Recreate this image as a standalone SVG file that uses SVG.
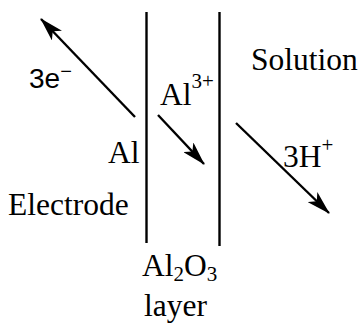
<svg xmlns="http://www.w3.org/2000/svg" width="362" height="329" viewBox="0 0 362 329">
<style>
.t{font-family:"Liberation Serif","Times New Roman",serif;font-size:31.5px;fill:#000}
.s{font-family:"Liberation Sans",Arial,sans-serif;font-size:28px;fill:#000}
.ln{stroke:#000;stroke-width:2.4;fill:none}
</style>
<defs>
<marker id="ah" viewBox="0 0 24 14" refX="23" refY="7" markerWidth="24" markerHeight="14" markerUnits="userSpaceOnUse" orient="auto">
<path d="M0,0 L24,7 L0,14 L6,7 Z" fill="#000"/>
</marker>
</defs>
<rect width="362" height="329" fill="#fff"/>
<g id="layer-lines">
<line class="ln" x1="146.5" y1="12" x2="146.5" y2="243"/>
<line class="ln" x1="219.5" y1="12" x2="219.5" y2="246"/>
</g>
<g id="connectors">
<line class="ln" x1="135" y1="117" x2="41" y2="19" marker-end="url(#ah)"/>
<line class="ln" x1="158" y1="115" x2="204" y2="164" marker-end="url(#ah)"/>
<line class="ln" x1="236" y1="123" x2="329" y2="213" marker-end="url(#ah)"/>
</g>
<g id="electron"><text class="s" x="29" y="88">3e<tspan font-size="20" dy="-10">−</tspan></text></g>
<g id="al-left"><text class="t" x="108" y="163">Al</text></g>
<g id="al-ion"><text class="t" x="160" y="105">Al<tspan font-size="21" dy="-17">3+</tspan></text></g>
<g id="solution"><text class="t" x="251" y="70">Solution</text></g>
<g id="hydrogen"><text class="t" x="283" y="167">3H<tspan font-size="21" dy="-15">+</tspan></text></g>
<g id="electrode"><text class="t" x="8" y="215">Electrode</text></g>
<g id="oxide"><text class="t" x="142" y="276">Al<tspan font-size="21" dy="5">2</tspan><tspan dy="-5">O</tspan><tspan font-size="21" dy="5">3</tspan></text>
<text class="t" x="144" y="316">layer</text></g>
</svg>
